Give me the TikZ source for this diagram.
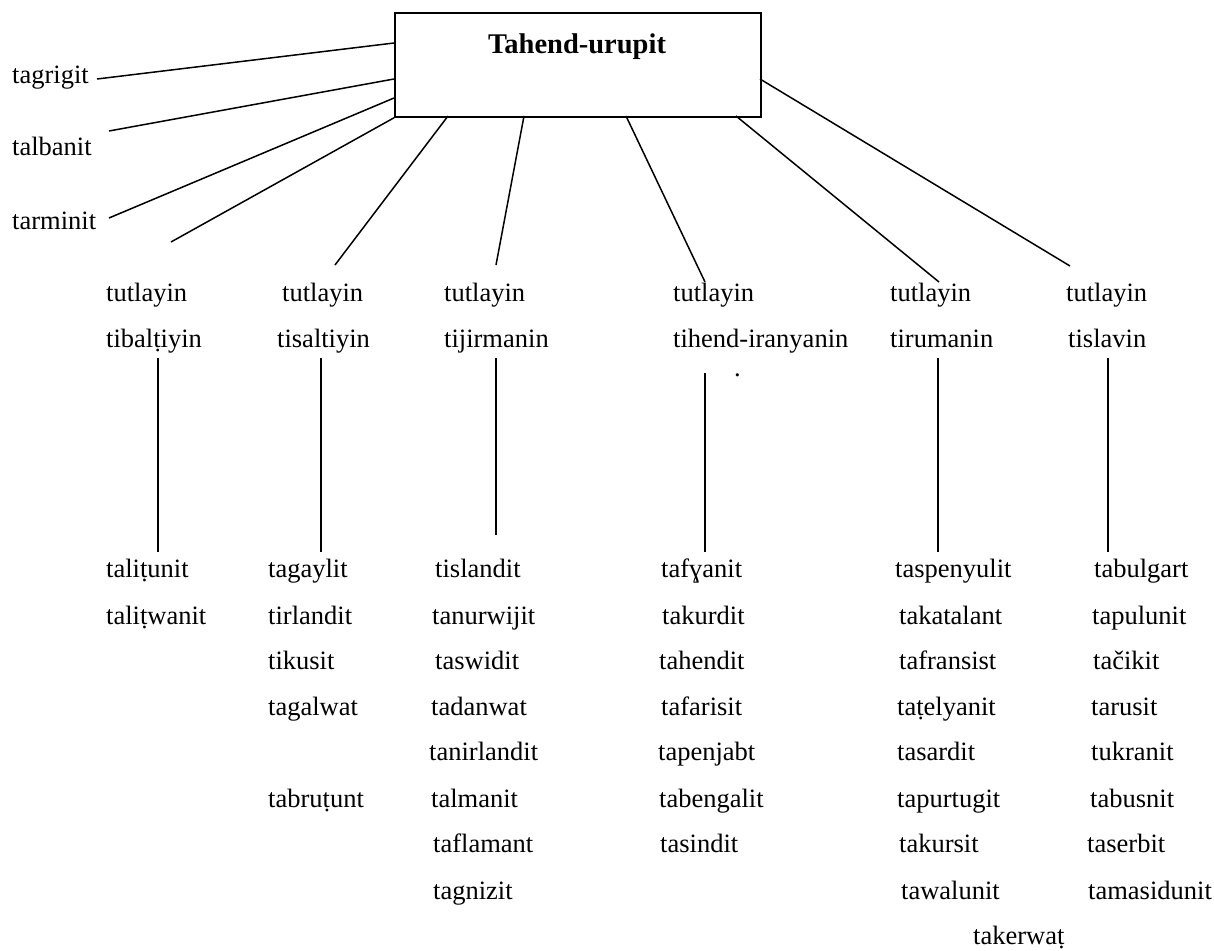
\documentclass[tikz,border=0pt]{standalone}
\usepackage{fontspec}
\setmainfont{Liberation Serif}
\begin{document}
\begin{tikzpicture}[x=1pt,y=-1pt,
  lbl/.style={anchor=base west, inner sep=0pt, font=\fontsize{26.5}{30}\selectfont},
  conn/.style={line width=1.5pt},
  rootbox/.style={draw, line width=1.8pt, minimum width=366pt, minimum height=104pt, inner sep=0pt, anchor=north west},
  titletext/.style={anchor=base, inner sep=0pt, font=\bfseries\fontsize{28.5}{32}\selectfont}]
\useasboundingbox (0,0) rectangle (1214,950);

% root
\node[rootbox] (root) at (394,12) {};
\node[titletext] (title) at (577,53) {Tahend-urupit};

% left languages
\node[lbl] (tagrigit) at (12,83) {tagrigit};
\node[lbl] (talbanit) at (12,155) {talbanit};
\node[lbl] (tarminit) at (12,229) {tarminit};

% family headers
\node[lbl] (f1a) at (106,301) {tutlayin};
\node[lbl] (f1b) at (106,347) {tibalṭiyin};
\node[lbl] (f2a) at (282,301) {tutlayin};
\node[lbl] (f2b) at (277,347) {tisaltiyin};
\node[lbl] (f3a) at (444,301) {tutlayin};
\node[lbl] (f3b) at (444,347) {tijirmanin};
\node[lbl] (f4a) at (673,301) {tutlayin};
\node[lbl] (f4b) at (673,347) {tihend-iranyanin};
\node[lbl] (f5a) at (890,301) {tutlayin};
\node[lbl] (f5b) at (890,347) {tirumanin};
\node[lbl] (f6a) at (1066,301) {tutlayin};
\node[lbl] (f6b) at (1068,347) {tislavin};
\node[lbl] (dot) at (734,376) {.};

% column 1
\node[lbl] (c1r1) at (106,577) {taliṭunit};
\node[lbl] (c1r2) at (106,624) {taliṭwanit};
% column 2
\node[lbl] (c2r1) at (268,577) {tagaylit};
\node[lbl] (c2r2) at (268,624) {tirlandit};
\node[lbl] (c2r3) at (268,669) {tikusit};
\node[lbl] (c2r4) at (268,715) {tagalwat};
\node[lbl] (c2r6) at (268,807) {tabruṭunt};
% column 3
\node[lbl] (c3r1) at (435,577) {tislandit};
\node[lbl] (c3r2) at (432,624) {tanurwijit};
\node[lbl] (c3r3) at (435,669) {taswidit};
\node[lbl] (c3r4) at (431,715) {tadanwat};
\node[lbl] (c3r5) at (429,760) {tanirlandit};
\node[lbl] (c3r6) at (431,807) {talmanit};
\node[lbl] (c3r7) at (433,852) {taflamant};
\node[lbl] (c3r8) at (433,899) {tagnizit};
% column 4
\node[lbl] (c4r1) at (661,577) {tafɣanit};
\node[lbl] (c4r2) at (662,624) {takurdit};
\node[lbl] (c4r3) at (659,669) {tahendit};
\node[lbl] (c4r4) at (661,715) {tafarisit};
\node[lbl] (c4r5) at (658,760) {tapenjabt};
\node[lbl] (c4r6) at (659,807) {tabengalit};
\node[lbl] (c4r7) at (660,852) {tasindit};
% column 5
\node[lbl] (c5r1) at (895,577) {taspenyulit};
\node[lbl] (c5r2) at (899,624) {takatalant};
\node[lbl] (c5r3) at (899,669) {tafransist};
\node[lbl] (c5r4) at (897,715) {taṭelyanit};
\node[lbl] (c5r5) at (897,760) {tasardit};
\node[lbl] (c5r6) at (897,807) {tapurtugit};
\node[lbl] (c5r7) at (899,852) {takursit};
\node[lbl] (c5r8) at (901,899) {tawalunit};
\node[lbl] (c5r9) at (973,944) {takerwaṭ};
% column 6
\node[lbl] (c6r1) at (1094,577) {tabulgart};
\node[lbl] (c6r2) at (1092,624) {tapulunit};
\node[lbl] (c6r3) at (1093,669) {tačikit};
\node[lbl] (c6r4) at (1091,715) {tarusit};
\node[lbl] (c6r5) at (1091,760) {tukranit};
\node[lbl] (c6r6) at (1090,807) {tabusnit};
\node[lbl] (c6r7) at (1087,852) {taserbit};
\node[lbl] (c6r8) at (1088,899) {tamasidunit};

% connector end points
\coordinate (r1) at (394,43);
\coordinate (r2) at (394,79);
\coordinate (r3) at (394,98);
\coordinate (r5) at (448,116);
\coordinate (r6) at (524,116);
\coordinate (r7) at (626,116);
\coordinate (r8) at (736,116);
\coordinate (r9) at (760,79);
\coordinate (e1) at (97,79);
\coordinate (e2) at (109,131);
\coordinate (e3) at (109,218);
\coordinate (e4) at (171,242);
\coordinate (e5) at (335,265);
\coordinate (e6) at (496,265);
\coordinate (e7) at (705,282);
\coordinate (e8) at (939,282);
\coordinate (e9) at (1070,266);

\draw[conn] (e1) -- (r1);
\draw[conn] (e2) -- (r2);
\draw[conn] (e3) -- (r3);
\draw[conn] (e4) -- (root.south west);
\draw[conn] (r5) -- (e5);
\draw[conn] (r6) -- (e6);
\draw[conn] (r7) -- (e7);
\draw[conn] (r8) -- (e8);
\draw[conn] (r9) -- (e9);

% vertical connectors
\coordinate (v1t) at (158,358); \coordinate (v1b) at (158,552);
\coordinate (v2t) at (321,358); \coordinate (v2b) at (321,552);
\coordinate (v3t) at (496,358); \coordinate (v3b) at (496,535);
\coordinate (v4t) at (705,373); \coordinate (v4b) at (705,552);
\coordinate (v5t) at (938,358); \coordinate (v5b) at (938,552);
\coordinate (v6t) at (1108,358); \coordinate (v6b) at (1108,552);
\draw[conn] (v1t) -- (v1b);
\draw[conn] (v2t) -- (v2b);
\draw[conn] (v3t) -- (v3b);
\draw[conn] (v4t) -- (v4b);
\draw[conn] (v5t) -- (v5b);
\draw[conn] (v6t) -- (v6b);
\end{tikzpicture}
\end{document}
